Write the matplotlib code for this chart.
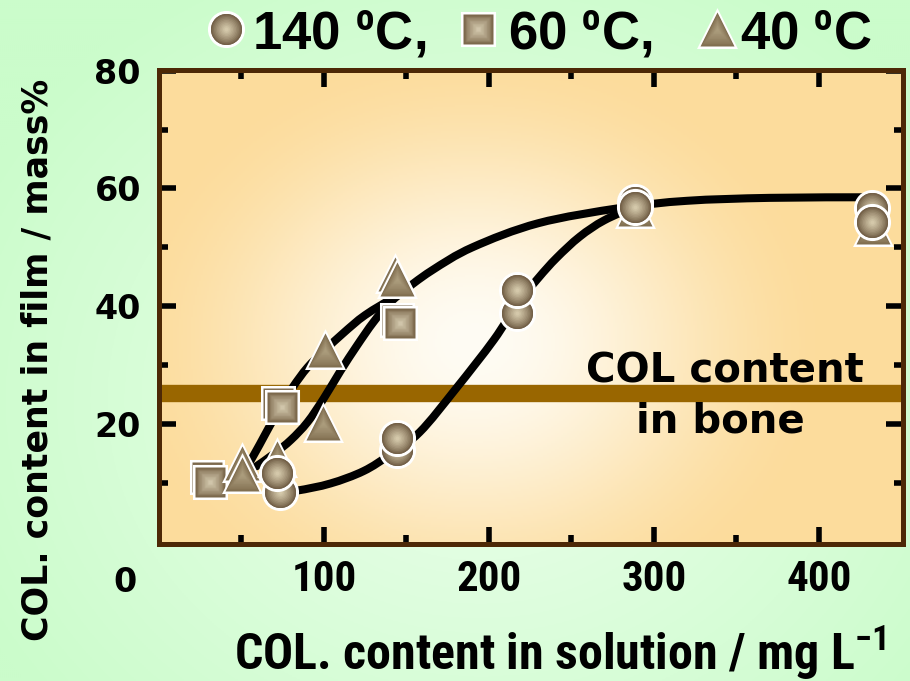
import numpy as np
import matplotlib
matplotlib.use("Agg")
import matplotlib.pyplot as plt
from matplotlib.path import Path
from matplotlib.patches import PathPatch
from matplotlib.colors import to_rgb
from matplotlib import font_manager

# ---------------------------------------------------------------- data
# COL. content in solution (mg/L) vs COL. content in film (mass%)
circle_x = [73.3, 71.7, 144.0, 144.0, 216.8, 216.8, 288.5, 288.5, 432.0, 432.0]   # 140 ºC
circle_y = [8.5, 11.6, 15.6, 17.6, 38.8, 42.8, 57.7, 56.8, 56.6, 54.3]
square_x = [29.0, 31.0, 72.3, 74.4, 144.0, 146.0]                                  # 60 ºC
square_y = [11.0, 10.2, 23.5, 22.9, 37.7, 37.1]
triangle_x = [50.1, 50.1, 71.5, 100.6, 99.6, 143.0, 144.5, 288.5, 432.9]           # 40 ºC
triangle_y = [13.4, 11.5, 14.3, 32.6, 20.2, 45.4, 44.6, 56.5, 53.4]

# guide curves (hand-drawn trend lines)
upper_x = [55, 61, 67, 73, 81, 90, 100, 112, 125, 145, 165, 190, 230, 280, 320, 370, 430]
upper_y = [13.5, 16.5, 19.6, 22.5, 26.2, 29.6, 32.4, 35.5, 38.5, 42.0, 46.0, 50.0, 54.1, 56.7, 57.9, 58.4, 58.5]
middle_x = [59, 70, 80, 90, 100, 110, 120, 130, 140, 152]
middle_y = [12.8, 15.0, 17.3, 20.3, 24.4, 29.0, 33.3, 37.3, 40.6, 43.4]
lower_x = [73, 84, 104, 124, 140, 158, 180, 203, 217, 230, 241, 255, 270, 290]
lower_y = [8.5, 8.7, 9.9, 12.0, 14.8, 18.6, 26.0, 34.3, 40.3, 44.8, 48.2, 51.8, 54.6, 57.1]

bone_level = 25.2
legend_labels = ["140 $^{o}$C,", "60 $^{o}$C,", "40 $^{o}$C"]
x_major = [100, 200, 300, 400]
x_minor = [50, 150, 250, 350]
y_major = [20, 40, 60, 80]
y_minor = [10, 30, 50, 70]

# ---------------------------------------------------------------- fonts
def have(family):
    try:
        font_manager.findfont(font_manager.FontProperties(family=family, weight="bold"),
                              fallback_to_default=False)
        return True
    except Exception:
        return False

NARROW, TICK_FS, XLAB_FS = "Liberation Sans", 26, 31
for cand in ["Liberation Sans Narrow", "Roboto Condensed", "Open Sans Condensed", "Arial Narrow"]:
    if have(cand):
        NARROW, TICK_FS, XLAB_FS = cand, 31, 36
        break
LEGEND_FONT = "Liberation Sans"
WIDE = "DejaVu Sans"
plt.rcParams["mathtext.fontset"] = "custom"
plt.rcParams["mathtext.rm"] = NARROW + ":bold"
plt.rcParams["mathtext.it"] = NARROW + ":bold"
plt.rcParams["mathtext.bf"] = NARROW + ":bold"

# ---------------------------------------------------------------- helpers
def mix(c1, c2, t):
    a, b = np.array(to_rgb(c1)), np.array(to_rgb(c2))
    return tuple(a * (1 - t) + b * t)


def shaded_marker(axx, x, y, marker, ms, edge, centre, z, n=10, mew=2.2):
    axx.plot([x], [y], ls="none", marker=marker, ms=ms, mfc=edge, mec="white",
             mew=mew, zorder=z)
    for i in range(1, n + 1):
        t = i / n
        axx.plot([x], [y], ls="none", marker=marker, ms=ms * (1 - 0.88 * t),
                 mfc=mix(edge, centre, t ** 0.75), mec="none", zorder=z)


def smooth_path(xs, ys):
    pts = np.column_stack([xs, ys]).astype(float)
    verts, codes = [pts[0]], [Path.MOVETO]
    for i in range(len(pts) - 1):
        p0 = pts[i - 1] if i > 0 else pts[i]
        p1, p2 = pts[i], pts[i + 1]
        p3 = pts[i + 2] if i + 2 < len(pts) else pts[i + 1]
        verts += [p1 + (p2 - p0) / 6.0, p2 - (p3 - p1) / 6.0, p2]
        codes += [Path.CURVE4] * 3
    return Path(verts, codes)


CIRCLE = ("o", 24.5, "#5f4b33", "#d4c8aa")
SQUARE = ("s", 23.5, "#6a5538", "#d0c5aa")
TRIANGLE = ("^", 26.5, "#786547", "#ab9c7c")

# ---------------------------------------------------------------- figure
W, H, DPI = 910, 681, 100
fig = plt.figure(figsize=(W / DPI, H / DPI), dpi=DPI)

# green page background
bg = fig.add_axes([0, 0, 1, 1], zorder=-10)
gx, gy = np.meshgrid(np.arange(0, W, 2), np.arange(0, H, 2))
d = np.clip(np.hypot((gx - 480) / 560.0, (gy - 400) / 480.0), 0, 1)
c0, c1 = np.array(to_rgb("#ecffec")), np.array(to_rgb("#cbfccb"))
bg.imshow(c0 * (1 - d[..., None]) + c1 * d[..., None], extent=(0, W, H, 0), aspect="auto")
bg.set_xlim(0, W)
bg.set_ylim(H, 0)
bg.axis("off")

L, R, T, B = 159, 903, 69.5, 543.5
ax = fig.add_axes([L / W, 1 - B / H, (R - L) / W, (B - T) / H])
XMIN, XMAX, YMIN, YMAX = 0, 451, -0.3, 80.2

# warm radial glow inside the plot area
px, py = np.meshgrid(np.linspace(0, R - L, 372), np.linspace(0, B - T, 237))
d = np.hypot((px - 315) / 430.0, (py - 200) / 360.0)
d = np.clip(d / 0.85, 0, 1)
d = d * d * (3 - 2 * d)
c0, c1 = np.array(to_rgb("#fffcf4")), np.array(to_rgb("#fcdc9c"))
ax.imshow(c0 * (1 - d[..., None]) + c1 * d[..., None],
          extent=(XMIN, XMAX, YMAX, YMIN), aspect="auto", zorder=0)

# bone reference band
ax.axhline(bone_level, color="#996600", lw=12.5, zorder=1)
ax.text(343, 27.1, "COL content", ha="center", va="baseline",
        fontsize=29, fontweight="bold", family=WIDE, zorder=2)
ax.text(340, 18.6, "in bone", ha="center", va="baseline",
        fontsize=29, fontweight="bold", family=WIDE, zorder=2)

# trend curves
for xs, ys in [(upper_x, upper_y), (middle_x, middle_y), (lower_x, lower_y)]:
    ax.add_patch(PathPatch(smooth_path(xs, ys), fill=False, lw=5.8, ec="black",
                           capstyle="round", joinstyle="round", zorder=3))

# data markers
for x, y in zip(square_x, square_y):
    shaded_marker(ax, x, y, *SQUARE, z=5)
for x, y in zip(triangle_x, triangle_y):
    shaded_marker(ax, x, y, *TRIANGLE, z=6)
for x, y in zip(circle_x, circle_y):
    shaded_marker(ax, x, y, *CIRCLE, z=7)

ax.set_xlim(XMIN, XMAX)
ax.set_ylim(YMIN, YMAX)

# frame and ticks
for s in ax.spines.values():
    s.set_color("#4d2806")
    s.set_linewidth(3.6)
    s.set_zorder(8)
ax.set_xticks(x_major)
ax.set_xticks(x_minor, minor=True)
ax.set_yticks(y_major)
ax.set_yticks(y_minor, minor=True)
ax.tick_params(which="both", direction="in", top=True, right=True, color="black")
ax.tick_params(which="major", length=12, width=4)
ax.tick_params(which="minor", length=6.5, width=4)
ax.tick_params(axis="x", which="major", pad=11)
ax.tick_params(axis="y", which="major", pad=13)
for lab in ax.get_xticklabels():
    lab.set_family(NARROW)
    lab.set_fontweight("bold")
    lab.set_fontsize(TICK_FS)
for lab in ax.get_yticklabels():
    lab.set_family(WIDE)
    lab.set_fontweight("bold")
    lab.set_fontsize(24)
ax.annotate("0", xy=(0, 0), xytext=(-24.5, -29.5), textcoords="offset points",
            ha="center", va="center", fontsize=24, fontweight="bold", family=WIDE,
            annotation_clip=False)

ax.set_xlabel("COL. content in solution / mg L$^{-1}$", family=NARROW,
              fontweight="bold", fontsize=XLAB_FS, va="baseline")
ax.xaxis.set_label_coords((560 - L) / (R - L), (B - 670) / (B - T))
ax.set_ylabel("COL. content in film / mass%", family=WIDE, fontweight="bold",
              fontsize=25, va="center")
ax.yaxis.set_label_coords((38 - L) / (R - L), (B - 360) / (B - T))

# legend row
lg = fig.add_axes([0, 0, 1, 1], zorder=10)
lg.set_xlim(0, W)
lg.set_ylim(H, 0)
lg.axis("off")
for (mx, tx), style, label in zip([(226, 252), (478, 508), (717, 740)],
                                   [CIRCLE, SQUARE, TRIANGLE], legend_labels):
    shaded_marker(lg, mx, 29, *style, z=1)
    lg.text(tx, 49, label, ha="left", va="baseline", family=LEGEND_FONT,
            fontweight="bold", fontsize=38)
lg.set_xlim(0, W)
lg.set_ylim(H, 0)

fig.savefig("out.png", dpi=DPI)
